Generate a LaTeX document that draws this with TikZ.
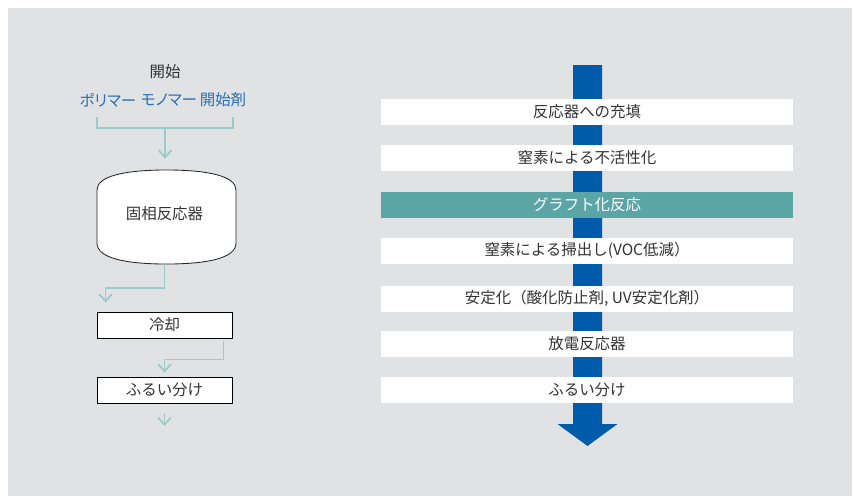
\documentclass[tikz,border=0pt]{standalone}
\usepackage{fontspec}
\setmainfont{Noto Sans CJK JP}
\newfontfamily\paltfont[RawFeature=+palt]{Noto Sans CJK JP}
\usepackage{tikz}
\usetikzlibrary{arrows.meta,calc}
\usepackage{xcolor}
\definecolor{panel}{HTML}{E1E2E4}
\definecolor{flowblue}{HTML}{005BAA}
\definecolor{tealbar}{HTML}{5BA5A6}
\definecolor{paleteal}{HTML}{9DCACB}
\definecolor{labelblue}{HTML}{2A6EB5}
\definecolor{textgray}{HTML}{333333}

\begin{document}
\begin{tikzpicture}[x=0.025cm, y=-0.025cm, >={Straight Barb[length=5pt,width=9pt]},
  every node/.style={text=textgray, font=\fontsize{11}{13}\selectfont},
  flow/.style={draw=paleteal, line width=1.3pt},
  label/.style={text=labelblue, font=\paltfont\fontsize{11}{13}\selectfont},
  box/.style={draw=black, line width=0.6pt, fill=white, minimum width=3.375cm, minimum height=0.65cm, inner sep=0pt},
  bar/.style={fill=white, minimum width=10.3cm, minimum height=0.65cm, inner sep=0pt}]
  \useasboundingbox (0,0) rectangle (853,496);
  \fill[panel] (8,8) rectangle (852,496);

  % Left flow
  \node (start) at (165,72) {開始};
  \node[label] (poly) at (108,100) {ポリマー};
  \node[label] (mono) at (169,100) {モノマー};
  \node[label] (init) at (223,100) {開始剤};

  \draw[line width=0.6pt, draw=black!85, fill=white]
    (97,190) .. controls (97,176) and (125,170) .. (166.5,170)
    .. controls (208,170) and (236,176) .. (236,190) -- (236,243)
    .. controls (236,258) and (208,264) .. (166.5,264)
    .. controls (125,264) and (97,258) .. (97,243) -- cycle;
  \node[minimum width=3.475cm, minimum height=2.35cm, inner sep=0pt] (reactor) at (164.5,217) {\raisebox{0.225cm}{固相反応器}};
  \node[box] (cool) at (164.5,325) {冷却};
  \node[box] (sieve) at (164.5,390) {ふるい分け};

  \coordinate (bl) at (97,117);
  \coordinate (br) at (233,117);
  \coordinate (bm) at (165,128);
  \coordinate (out) at (164.5,426);
  \draw[flow] (bl) |- (bm) -| (br);
  \draw[flow, ->, shorten >=0.275cm] (bm) -- (bm |- reactor.north);
  \draw[flow, ->, shorten >=0.225cm] (reactor.south) -- ++(0,24) -| ([xshift=0.225cm]cool.north west);
  \draw[flow, ->, shorten >=0.1cm] ([xshift=-0.225cm, yshift=-0.075cm]cool.south east) -- ++(0,18) -| (sieve.north);
  \draw[flow, ->] ([yshift=-0.25cm]sieve.south) -- (out);

  % Right flow
  \fill[flowblue] (573,65) -- (602,65) -- (602,424) -- (617.5,424) -- (587.5,446) -- (557.5,424) -- (573,424) -- cycle;
  \node[bar] (charge) at (587,112) {反応器への充填};
  \node[bar] (inert) at (587,158) {窒素による不活性化};
  \node[bar, fill=tealbar, text=white] (graft) at (587,204.5) {グラフト化反応};
  \node[bar] (purge) at (587,250.5) {窒素による掃出し(VOC低減）};
  \node[bar] (stab) at (587,298.5) {安定化（酸化防止剤, UV安定化剤）};
  \node[bar] (discharge) at (587,344) {放電反応器};
  \node[bar] (sieve2) at (587,390) {ふるい分け};
\end{tikzpicture}
\end{document}
